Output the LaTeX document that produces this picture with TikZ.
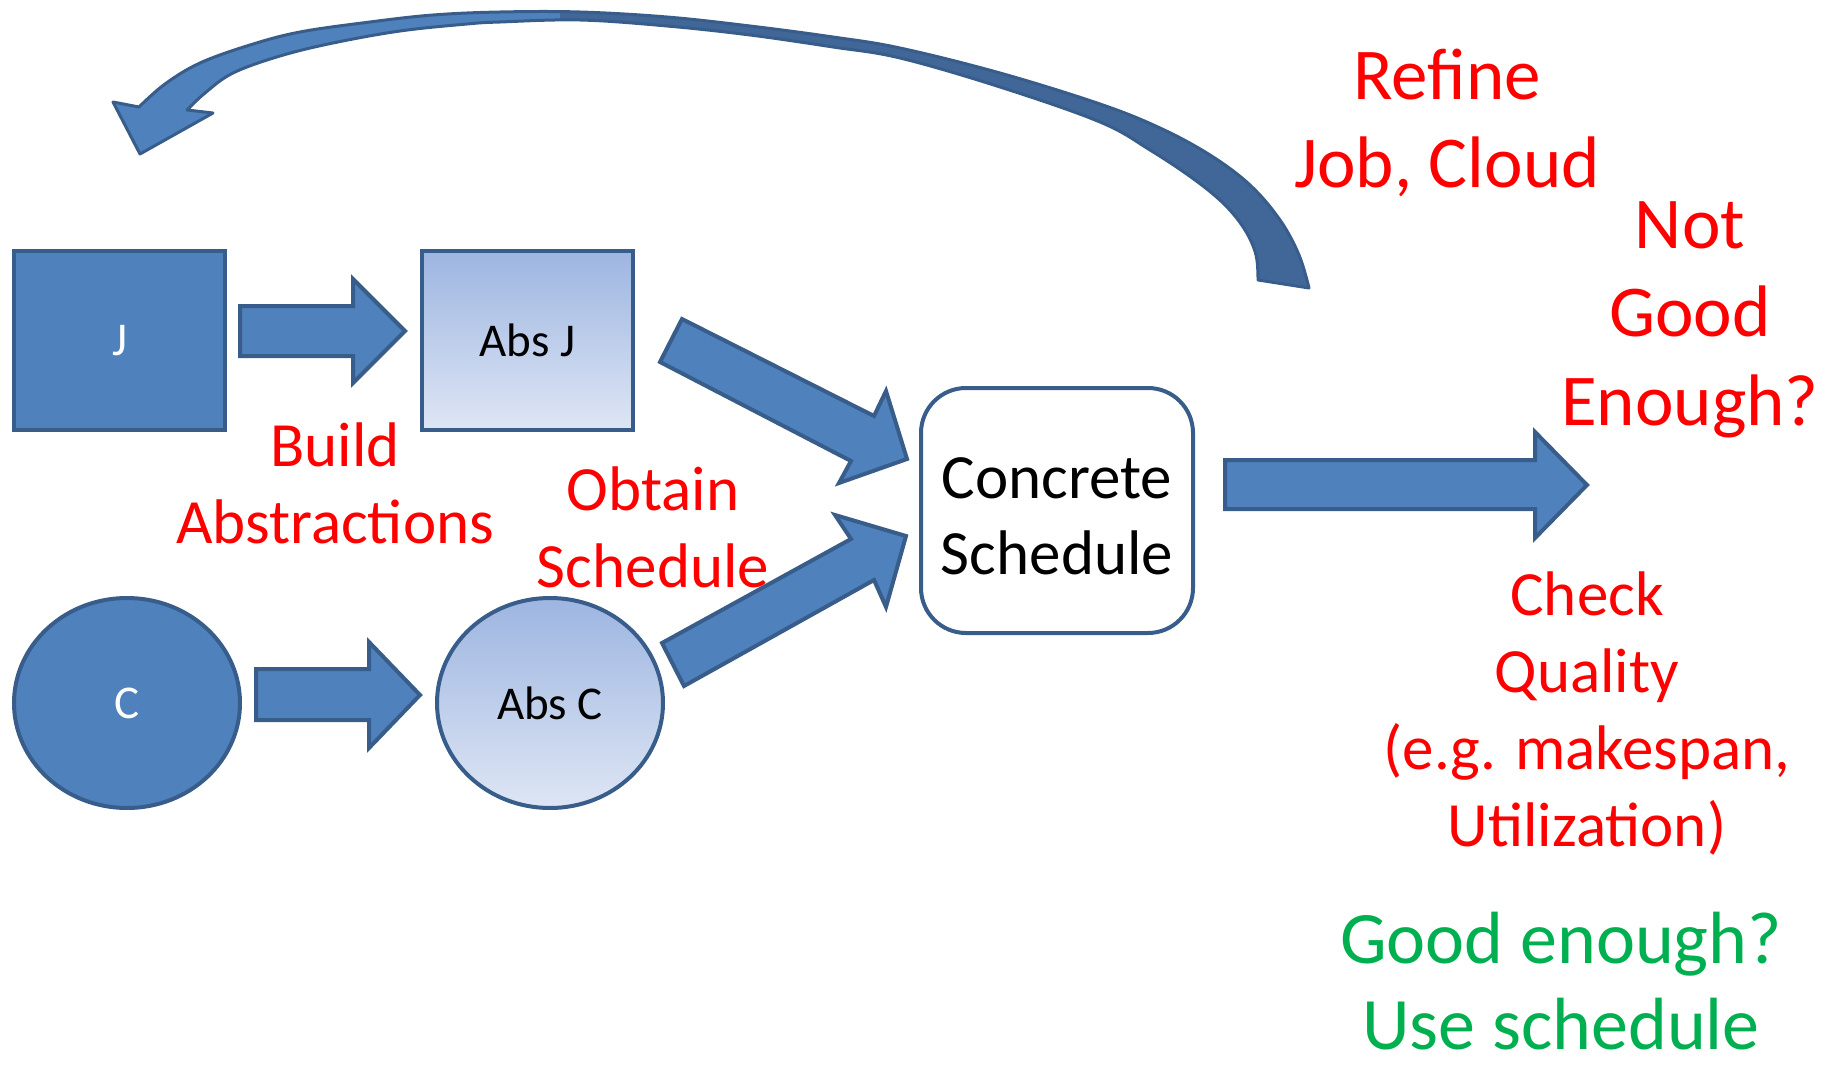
\documentclass[tikz,border=0pt]{standalone}
\usepackage{fontspec}
\setmainfont{Carlito}
\usetikzlibrary{shapes.geometric}

\definecolor{accent}{RGB}{79,129,189}
\definecolor{accentline}{RGB}{56,93,138}
\definecolor{accentdark}{RGB}{64,103,151}
\definecolor{gradtop}{RGB}{157,181,225}
\definecolor{gradbot}{RGB}{222,230,244}
\definecolor{okgreen}{RGB}{0,176,80}

\begin{document}
\begin{tikzpicture}[x=1pt,y=-1pt,
  solidshape/.style={draw=accentline, line width=4pt, fill=accent, text=white,
    font=\fontsize{47}{57}\selectfont, inner sep=0pt},
  lightshape/.style={draw=accentline, line width=4pt, top color=gradtop,
    bottom color=gradbot, text=black, font=\fontsize{47}{57}\selectfont, inner sep=0pt},
  blockarrow/.style={draw=accentline, line width=4pt, fill=accent, line join=miter},
  bigred/.style={text=red, font=\fontsize{73}{88.5}\selectfont, align=center,
    inner sep=0pt, anchor=north},
  midred/.style={text=red, font=\fontsize{63}{77}\selectfont, align=center,
    inner sep=0pt, anchor=north},
  greentext/.style={text=okgreen, font=\fontsize{74}{86}\selectfont, align=center,
    inner sep=0pt, anchor=north}
]
\useasboundingbox (0,0) rectangle (1841,1065);

% inputs and their abstractions
\node[solidshape, rectangle, minimum width=211pt, minimum height=179pt] (J) at (119.5,340.5) {J};
\node[lightshape, rectangle, minimum width=211pt, minimum height=179pt] (absJ) at (527.5,340.5) {Abs J};
\node[solidshape, ellipse, minimum width=226pt, minimum height=210pt] (C) at (127,703) {C};
\node[lightshape, ellipse, minimum width=226pt, minimum height=210pt] (absC) at (550,703) {Abs C};

% the concrete schedule
\node[draw=accentline, line width=4pt, fill=white, rounded corners=45pt,
  minimum width=272pt, minimum height=245pt, align=center, inner sep=0pt,
  font=\fontsize{63}{76}\selectfont] (conc) at (1057,510.5) {\strut Concrete\\Schedule};

% block arrows
\draw[blockarrow] (240,306) -- (353,306) -- (353,279) -- (405,331) -- (353,383)
  -- (353,356) -- (240,356) -- cycle;
\draw[blockarrow] (256,669) -- (369,669) -- (369,642) -- (420,695) -- (369,748)
  -- (369,720) -- (256,720) -- cycle;
\draw[blockarrow] (682,319) -- (874,416) -- (886,391) -- (907,459) -- (839,483)
  -- (851,461) -- (660,362) -- cycle;
\draw[blockarrow] (662,643) -- (851,539) -- (835,515) -- (906,536) -- (886,607)
  -- (874,580) -- (684,686) -- cycle;
\draw[blockarrow] (1225,460) -- (1535,460) -- (1535,432) -- (1587,485) -- (1535,538)
  -- (1535,509) -- (1225,509) -- cycle;

% curved feedback ribbon
\path[save path=\ribbonpath] (139,107)
  -- plot[smooth, tension=0.6] coordinates {(139,107) (165,84) (200,63) (250,45)
     (300,32) (370,22) (433,15) (500,12) (580,12) (667,17) (750,26) (833,37)
     (900,48) (1000,73) (1100,104) (1160,128) (1210,155) (1250,185) (1280,220)
     (1299,255) (1309,288)}
  -- plot[smooth, tension=0.6] coordinates {(1258,280) (1256,255) (1245,230)
     (1225,205) (1195,180) (1150,150) (1100,122) (1000,87) (900,58) (833,47)
     (750,35) (667,26) (580,20) (500,22) (467,24) (400,31) (333,43) (280,56)
     (233,73) (205,93) (187,110)}
  -- (213,113) -- (140,154) -- (113,102) -- cycle;
\fill[accent, use path=\ribbonpath];
\begin{scope}
  \clip (560,0) rectangle (1400,400);
  \fill[accentdark, use path=\ribbonpath];
\end{scope}
\draw[accentline, line width=3pt, line join=round, use path=\ribbonpath];

% labels
\node[bigred] (refine) at (1447,37) {\strut Refine\\Job, Cloud};
\node[bigred] (notgood) at (1690,186) {\strut Not\\Good\\Enough?};
\node[midred] (build) at (335,412) {\strut Build\\Abstractions};
\node[midred] (obtain) at (653,456) {\strut Obtain\\Schedule};
\node[midred] (check) at (1587,561) {\strut Check\\Quality\\(e.g. makespan,\\Utilization)};
\node[greentext] (good) at (1561,903) {\strut Good enough?\\Use schedule};
\end{tikzpicture}
\end{document}
